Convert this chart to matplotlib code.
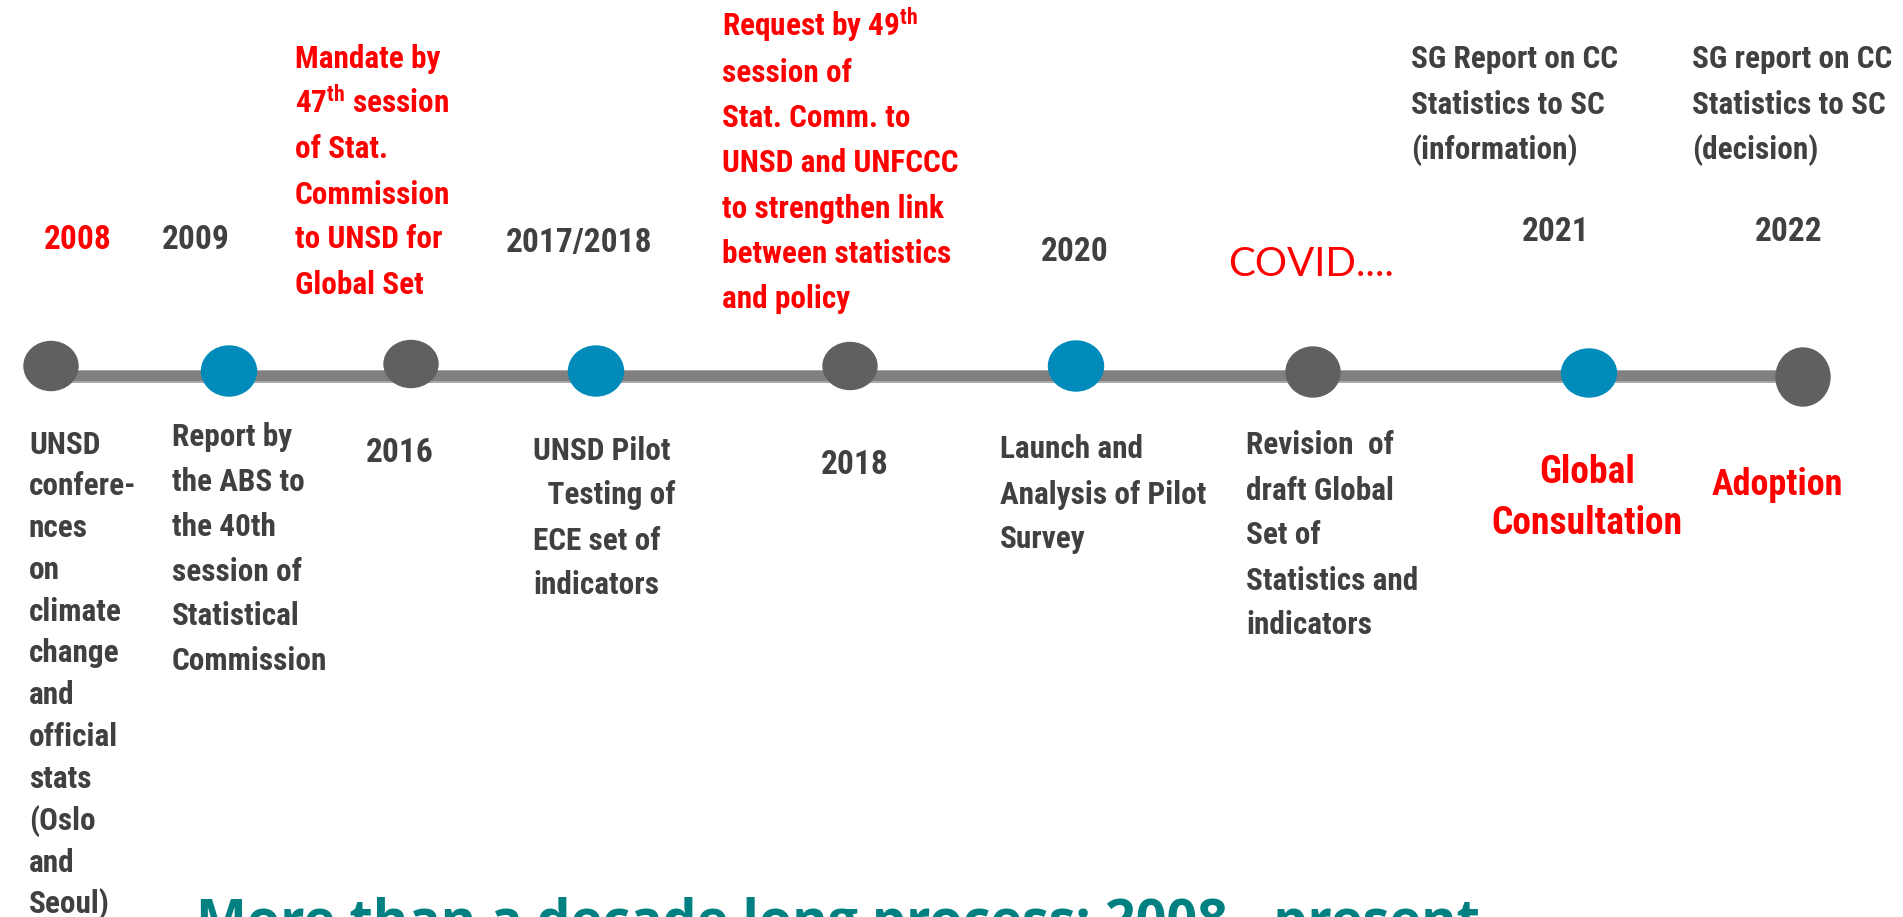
import matplotlib
matplotlib.use("Agg")
import matplotlib.pyplot as plt
from matplotlib.patches import Ellipse
from matplotlib import font_manager

W, H = 1903, 917
PX = 100 / 72  # pixels per point at dpi 100

installed = {f.name for f in font_manager.fontManager.ttflist}


def pick(*names):
    for n in names:
        if n in installed:
            return n
    return "DejaVu Sans"


NARROW = pick("Liberation Sans Narrow", "DejaVu Sans Condensed", "Roboto Condensed", "Liberation Sans")
PLAIN = pick("Lato", "Open Sans", "Noto Sans")
TITLE_FONT = pick("Open Sans", "Noto Sans", "Lato")

plt.rcParams["mathtext.fontset"] = "custom"
plt.rcParams["mathtext.rm"] = NARROW
plt.rcParams["mathtext.bf"] = NARROW + ":bold"

# ---- data ----
title = "More than a decade long process: 2008 - present"

years_top = ["2008", "2009", "2017/2018", "2020", "2021", "2022"]
years_top_red = [True, False, False, False, False, False]
years_bottom = ["2016", "2018"]
covid_note = "COVID...."

node_kind = ["dark", "blue", "dark", "blue", "dark", "blue", "dark", "blue", "dark"]

mandate_text = ["Mandate by", r"47$^{\mathbf{th}}$ session", "of Stat.", "Commission",
                "to UNSD for", "Global Set"]
request_text = [r"Request by 49$^{\mathbf{th}}$", "session of", "Stat. Comm. to",
                "UNSD and UNFCCC", "to strengthen link", "between statistics", "and policy"]
sg_info_text = ["SG Report on CC", "Statistics to SC", "(information)"]
sg_decision_text = ["SG report on CC", "Statistics to SC", "(decision)"]

unsd_conf_text = ["UNSD", "confere-", "nces", "on", "climate", "change", "and", "official",
                  "stats", "(Oslo", "and", "Seoul)"]
abs_report_text = ["Report by", "the ABS to", "the 40th", "session of", "Statistical", "Commission"]
pilot_text = ["UNSD Pilot", "  Testing of", "ECE set of", "indicators"]
launch_text = ["Launch and", "Analysis of Pilot", "Survey"]
revision_text = ["Revision  of", "draft Global", "Set of", "Statistics and", "indicators"]
consultation_text = ["Global", "Consultation"]
adoption_text = ["Adoption"]

# ---- layout (pixel positions) ----
node_x = [51, 229, 411, 596, 850, 1076, 1313, 1589, 1803]
node_y = [366, 371, 364, 371, 366, 366, 372, 373, 377]
node_w = [54, 55, 54, 55, 54, 55, 54, 55, 54]
node_h = [49, 50, 47, 50, 47, 50, 50, 48, 58]
years_top_x = [78, 196, 579, 1075, 1556, 1789]
years_top_y = [225, 225, 228, 237, 217, 217]
years_bottom_x = [400, 855]
years_bottom_y = [438, 450]

GRAY = "#404040"
RED = "#FF0000"
TEAL = "#008080"
COLORS = {"dark": "#606060", "blue": "#008BBB"}
BODY = 22.5

fig = plt.figure(figsize=(W / 100, H / 100), dpi=100)
ax = fig.add_axes([0, 0, 1, 1])
ax.set_xlim(0, W)
ax.set_ylim(H, 0)
ax.axis("off")


def block(lines, x, top, pitch, size, color, family=NARROW, weight="bold", ha="left", cap=0.72):
    base = top + cap * size * PX
    for i, s in enumerate(lines):
        ax.text(x, base + i * pitch, s, ha=ha, va="baseline", fontsize=size,
                color=color, family=family, fontweight=weight)


# timeline bar
ax.plot([node_x[0], node_x[-1]], [376, 376], color="#A8A8A8", lw=13 * 0.72,
        solid_capstyle="butt", zorder=1)
ax.plot([node_x[0], node_x[-1]], [376, 376], color="#808080", lw=10 * 0.72,
        solid_capstyle="butt", zorder=1)

for x, y, w, h, k in zip(node_x, node_y, node_w, node_h, node_kind):
    ax.add_patch(Ellipse((x, y), w, h, color=COLORS[k], zorder=2))

# years
for s, x, y, red in zip(years_top, years_top_x, years_top_y, years_top_red):
    block([s], x, y, 0, 24, RED if red else GRAY, ha="center")
for s, x, y in zip(years_bottom, years_bottom_x, years_bottom_y):
    block([s], x, y, 0, 24, GRAY, ha="center")

block([covid_note], 1228, 247, 0, 29, RED, family=PLAIN, weight="normal")

# upper descriptions
block(mandate_text, 295, 46, 45, BODY, RED)
block(request_text, 722, 14, 45.3, BODY, RED)
block(sg_info_text, 1411, 46, 45, BODY, GRAY)
block(sg_decision_text, 1692, 46, 45, BODY, GRAY)

# lower descriptions
block(unsd_conf_text, 29, 431, 41.8, BODY, GRAY)
block(abs_report_text, 172, 424, 44.7, BODY, GRAY)
block(pilot_text, 533, 437, 45, BODY, GRAY)
block(launch_text, 1000, 436, 45, BODY, GRAY)
block(revision_text, 1246, 432, 45, BODY, GRAY)
block(consultation_text, 1587, 456, 51, 27, RED, ha="center")
block(adoption_text, 1777, 469, 0, 26, RED, ha="center")

# title, cut by the bottom edge like the slide
t = ax.text(196, 0, title, ha="left", va="baseline", fontsize=36, color=TEAL,
            family=TITLE_FONT, fontweight="bold")
fig.canvas.draw()
tw = t.get_window_extent(fig.canvas.get_renderer()).width
size = 36 * 1284 / tw
t.set_fontsize(size)
t.set_y(900 + 0.714 * size * PX)

fig.savefig("out.png", dpi=100)
